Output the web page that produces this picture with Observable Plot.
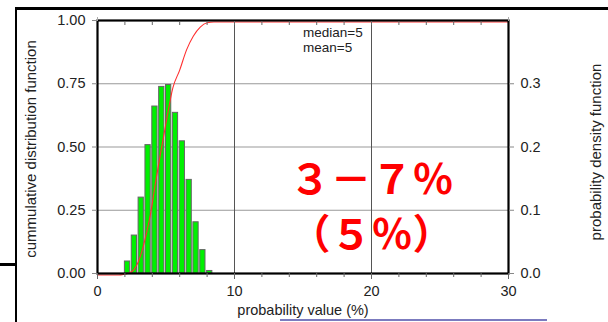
<!DOCTYPE html>
<html><head><meta charset="utf-8">
<script src="https://cdn.jsdelivr.net/npm/d3@7"></script>
<script src="https://cdn.jsdelivr.net/npm/@observablehq/plot@0.6"></script>
<style>
html,body{margin:0;padding:0;background:#fff;overflow:hidden}
#wrap{position:relative;width:608px;height:322px}
#wrap svg{position:absolute;left:0;top:0}
.deco{position:absolute;background:#000;z-index:2}
</style></head><body>
<div id="wrap">
<div class="deco" style="left:16px;top:7px;width:592px;height:3px"></div>
<div class="deco" style="left:15px;top:7px;width:2px;height:315px"></div>
<div class="deco" style="left:0;top:263px;width:16px;height:3px"></div>
<div class="deco" style="left:280px;top:319px;width:267px;height:2px;background:#7b7bbf"></div>
</div>
<script>
// histogram (probability density), bins of width 0.5
const binStart = [2, 2.5, 3, 3.5, 4, 4.5, 5, 5.5, 6, 6.5, 7, 7.5, 8];
const pdfValues = [0.019, 0.060, 0.120, 0.203, 0.264, 0.295, 0.298, 0.254, 0.209, 0.148, 0.081, 0.037, 0.004];
const binWidth = 0.5;
// cumulative distribution curve
const cdfX = [0, 1.5, 1.9, 2.3, 2.65, 3.0, 3.3, 3.6, 3.9, 4.25, 4.6, 5.0, 5.5, 6.0, 6.5, 7.0, 7.5, 8.0, 8.5, 30];
const cdfY = [0, 0, 0.002, 0.008, 0.02, 0.055, 0.105, 0.17, 0.25, 0.37, 0.48, 0.6, 0.74, 0.81, 0.89, 0.945, 0.98, 0.997, 1, 1];
// ticks
const xMajor = [0, 10, 20, 30];
const xMinor = [0, 2, 4, 6, 8, 10, 12, 14, 16, 18, 20, 22, 24, 26, 28, 30];
const yLeftTicks = [0, 0.25, 0.5, 0.75, 1];
const yRightTicks = [0, 0.1, 0.2, 0.3];
const pdfMax = 0.4;
// texts
const xTitle = "probability value (%)";
const yLeftTitle = "cummulative distribution function";
const yRightTitle = "probability density function";
const stats = ["median=5", "mean=5"];
const bigNote = ["３－７％", "（５％）"];

const bins = binStart.map((s, i) => ({x1: s, x2: s + binWidth, pdf: pdfValues[i]}));
const cdf = cdfX.map((x, i) => ({x, y: cdfY[i]}));

const chart = Plot.plot({
  width: 608, height: 322,
  marginLeft: 97, marginRight: 100, marginTop: 20, marginBottom: 49,
  style: {fontFamily: "'Liberation Sans', Arial, sans-serif", fontSize: "14.5px", color: "#222", background: "transparent"},
  x: {domain: [0, 30], axis: null},
  y: {domain: [0, 1], axis: null},
  marks: [
    Plot.gridY([0.25, 0.5, 0.75], {stroke: "#999", strokeOpacity: 1}),
    Plot.gridX([10, 20], {stroke: "#555", strokeOpacity: 1}),
    Plot.rectY(bins, {x1: "x1", x2: "x2", y: d => d.pdf / pdfMax, fill: "#00f000", stroke: "#666", strokeWidth: 1, insetRight: 1.6}),
    Plot.line(cdf, {x: "x", y: "y", stroke: "#ff3030", strokeWidth: 1.1, curve: "monotone-x", dy: 1.5}),
    Plot.frame({stroke: "#000", strokeWidth: 2.2}),
    Plot.axisX(xMajor, {anchor: "bottom", tickSize: 6, tickPadding: 6, stroke: "#666", label: null}),
    Plot.axisX(xMinor, {anchor: "bottom", tickSize: 4, tickFormat: () => "", stroke: "#666", label: null}),
    Plot.axisX(xMinor.slice(1, -1), {anchor: "top", tickSize: 4, dy: 4, tickFormat: () => "", stroke: "#666", label: null}),
    Plot.axisX([0, 30], {anchor: "top", tickSize: 4, tickFormat: () => "", stroke: "#aaa", label: null}),
    Plot.axisY(yLeftTicks, {anchor: "left", tickSize: 5, tickPadding: 7, tickFormat: d3.format(".2f"), stroke: "#888", label: null}),
    Plot.axisY(yRightTicks.map(v => v / pdfMax), {anchor: "right", tickSize: 5, tickPadding: 7, tickFormat: d => (d * pdfMax).toFixed(1), stroke: "#888", label: null}),
    Plot.text([xTitle], {frameAnchor: "bottom", dy: 41, fontSize: 14.5, fill: "#222"}),
    Plot.text([yLeftTitle], {frameAnchor: "left", dx: -66, dy: 2, rotate: -90, textAnchor: "middle", fontSize: 15, fill: "#222"}),
    Plot.text([yRightTitle], {frameAnchor: "right", dx: 88, dy: 5, rotate: -90, textAnchor: "middle", fontSize: 15, fill: "#222"}),
    Plot.text([stats.join("\n")], {x: 15, y: 1, textAnchor: "start", lineAnchor: "top", dy: 6, fontSize: 13.5, lineHeight: 1.1, fill: "#222"}),
    Plot.text([bigNote.join("\n")], {x: 20, y: 0.275, textAnchor: "middle", lineAnchor: "middle", fontSize: 41, lineHeight: 1.35, fill: "#ff0000", fontWeight: "bold", fontFamily: "'Noto Sans CJK JP', sans-serif"})
  ]
});
document.getElementById("wrap").appendChild(chart);
</script>
</body></html>
